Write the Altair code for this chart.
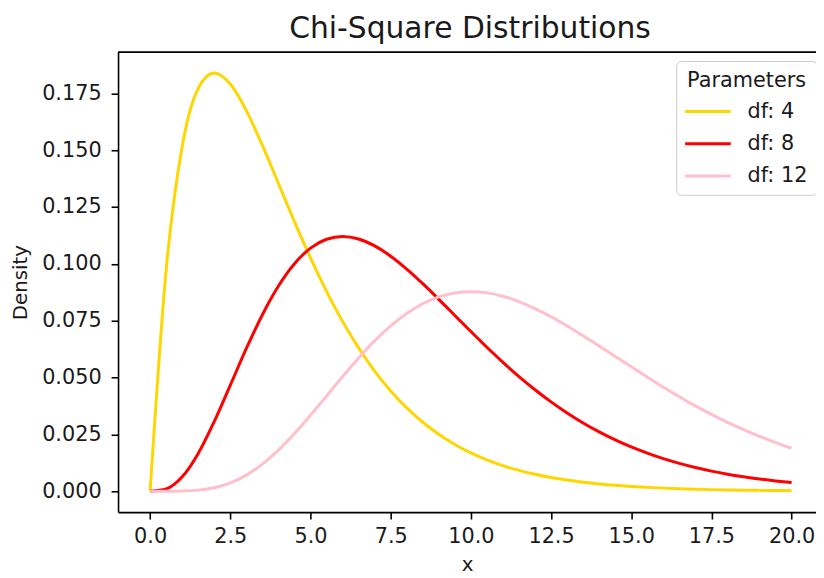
import altair as alt
import pandas as pd

# ---- data ----
x_vals = [0.0, 0.5, 1.0, 1.5, 2.0, 2.5, 3.0, 3.5, 4.0, 4.5, 5.0, 5.5, 6.0, 6.5, 7.0,
          7.5, 8.0, 8.5, 9.0, 9.5, 10.0, 10.5, 11.0, 11.5, 12.0, 12.5, 13.0, 13.5,
          14.0, 14.5, 15.0, 15.5, 16.0, 16.5, 17.0, 17.5, 18.0, 18.5, 19.0, 19.5, 20.0]

dens_df4 = [0.0, 0.09735, 0.15163, 0.17714, 0.18394, 0.17907, 0.16735, 0.15205, 0.13534,
            0.11857, 0.10261, 0.08790, 0.07468, 0.06301, 0.05284, 0.04410, 0.03663,
            0.03031, 0.02500, 0.02055, 0.01684, 0.01378, 0.01124, 0.00915, 0.00744,
            0.00603, 0.00488, 0.00395, 0.00319, 0.00257, 0.00207, 0.00167, 0.00134,
            0.00108, 0.00086, 0.00069, 0.00055, 0.00044, 0.00036, 0.00028, 0.00023]

dens_df8 = [0.0, 0.00101, 0.00632, 0.01661, 0.03066, 0.04663, 0.06276, 0.07761, 0.09022,
            0.10005, 0.10688, 0.11079, 0.11202, 0.11092, 0.10789, 0.10335, 0.09769,
            0.09125, 0.08436, 0.07727, 0.07019, 0.06328, 0.05666, 0.05043, 0.04462,
            0.03927, 0.03440, 0.03001, 0.02607, 0.02255, 0.01944, 0.01672, 0.01429,
            0.01221, 0.01039, 0.00882, 0.00747, 0.00634, 0.00535, 0.00450, 0.00378]

dens_df12 = [0.0, 0.0000032, 0.000079, 0.000467, 0.001533, 0.003643, 0.00706, 0.01188,
             0.01804, 0.02532, 0.03340, 0.04189, 0.05041, 0.05858, 0.06608, 0.07267,
             0.07815, 0.08241, 0.08541, 0.08717, 0.08773, 0.08721, 0.08571, 0.08336,
             0.08032, 0.07669, 0.07266, 0.06837, 0.06387, 0.05926, 0.05468, 0.05021,
             0.04574, 0.04156, 0.03753, 0.03377, 0.03026, 0.02712, 0.02415, 0.02140,
             0.01892]

series_labels = ["df: 4", "df: 8", "df: 12"]
series_colors = ["#FFD700", "#FF0000", "#FFC0CB"]

x_ticks = [0.0, 2.5, 5.0, 7.5, 10.0, 12.5, 15.0, 17.5, 20.0]
y_ticks = [0.0, 0.025, 0.05, 0.075, 0.1, 0.125, 0.15, 0.175]

chart_title = "Chi-Square Distributions"

rows = []
for lab, vals in zip(series_labels, [dens_df4, dens_df8, dens_df12]):
    for xv, yv in zip(x_vals, vals):
        rows.append({"x": xv, "density": yv, "series": lab})
data = pd.DataFrame(rows)

W, H = 704, 464
FONT = "DejaVu Sans"
TXT = "#1a1a1a"

lines = alt.Chart(data).mark_line(strokeWidth=3, interpolate="monotone").encode(
    x=alt.X("x:Q",
            scale=alt.Scale(domain=[-1.0, 20.76], nice=False, zero=False),
            axis=alt.Axis(values=x_ticks, format=".1f", title="x",
                          labelPadding=7, titlePadding=8)),
    y=alt.Y("density:Q",
            scale=alt.Scale(domain=[-0.0092, 0.1931], nice=False, zero=False),
            axis=alt.Axis(values=y_ticks, format=".3f", title="Density",
                          labelPadding=10, titlePadding=11)),
    color=alt.Color("series:N",
                    scale=alt.Scale(domain=series_labels, range=series_colors),
                    sort=series_labels,
                    legend=alt.Legend(
                        title="Parameters", orient="none", legendX=563, legendY=9,
                        symbolType="M-1.6,0H1.6", symbolSize=827, symbolStrokeWidth=3,
                        symbolOffset=7, labelOffset=24,
                        labelFont=FONT, labelFontSize=21, labelColor=TXT,
                        titleFont=FONT, titleFontSize=21, titleFontWeight="normal",
                        titleColor=TXT, titleAnchor="middle", titlePadding=5,
                        padding=9, rowPadding=6.5,
                        fillColor="rgba(255,255,255,0.8)", strokeColor="#cccccc",
                        cornerRadius=5)),
)

frame_top = alt.Chart(pd.DataFrame({"k": [0]})).mark_rule(
    color="#000000", strokeWidth=1.6
).encode(x=alt.value(0), x2=alt.value(W), y=alt.value(0))

title_text = alt.Chart(pd.DataFrame({"t": [chart_title]})).mark_text(
    font=FONT, fontSize=30, color=TXT, align="center", baseline="alphabetic"
).encode(text="t:N", x=alt.value(W / 2 + 3), y=alt.value(-14))

chart = alt.layer(lines, frame_top, title_text).properties(
    width=W, height=H,
    autosize=alt.AutoSizeParams(type="none"),
    padding={"left": 111, "top": 42, "right": 0, "bottom": 64},
).configure_view(stroke=None).configure_axis(
    grid=False, domainColor="#000000", domainWidth=1.6,
    tickColor="#000000", tickWidth=1.6, tickSize=7,
    labelFont=FONT, labelFontSize=21, labelColor=TXT,
    titleFont=FONT, titleFontSize=20, titleFontWeight="normal", titleColor=TXT,
    labelFlush=False, labelOverlap=False,
)

chart.save("out.html", embed_options={"renderer": "svg", "actions": False})
